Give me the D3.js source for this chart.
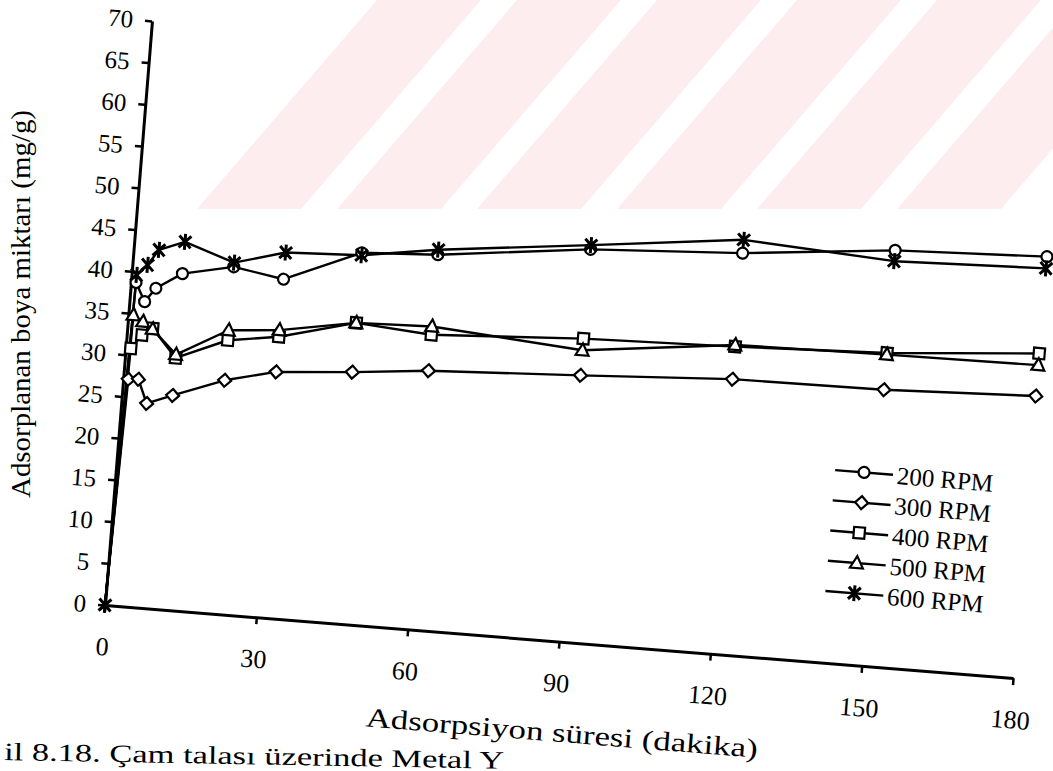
<!DOCTYPE html>
<html><head><meta charset="utf-8">
<script src="https://cdn.jsdelivr.net/npm/d3@7"></script>
<style>
body{margin:0;background:#fff}
svg{display:block}
text{font-family:"Liberation Serif","Times New Roman",serif;fill:#000}
</style>
</head><body>
<svg id="chart" width="1053" height="771"></svg>
<script>
// ---- data ----
const times   = [0, 1, 3, 5, 10, 20, 30, 45, 60, 90, 120, 150, 180];
const rpm200  = [0, 38.7, 36.5, 38.2, 40.2, 41.5, 40.5, 44.4, 44.9, 47.0, 48.0, 49.8, 50.5];
const rpm300  = [0, 27.1, 27.2, 24.4, 25.6, 27.9, 29.4, 30.1, 31.0, 31.9, 32.9, 33.1, 33.8];
const rpm400  = [0, 30.8, 32.5, 33.4, 30.1, 32.7, 33.6, 36.0, 35.3, 36.3, 36.8, 37.5, 38.9];
const rpm500  = [0, 34.8, 34.1, 33.3, 30.5, 33.9, 34.4, 36.0, 36.3, 34.9, 37.0, 37.3, 37.5];
const rpm600  = [0, 39.6, 40.9, 42.8, 44.0, 42.0, 43.7, 44.1, 45.5, 47.5, 49.6, 48.5, 49.1];
const seriesNames = ["200 RPM", "300 RPM", "400 RPM", "500 RPM", "600 RPM"];
const markerTypes = ["circle", "diamond", "square", "triangle", "star"];
const xTicks = [0, 30, 60, 90, 120, 150, 180];
const yTicks = [0, 5, 10, 15, 20, 25, 30, 35, 40, 45, 50, 55, 60, 65, 70];
const xTitle = "Adsorpsiyon süresi (dakika)";
const yTitle = "Adsorplanan boya miktarı (mg/g)";
const caption = "il 8.18. Çam talası üzerinde Metal Y";

const seriesValues = [rpm200, rpm300, rpm400, rpm500, rpm600];
const series = seriesNames.map((name, i) => ({
  name, marker: markerTypes[i],
  points: times.map((t, j) => ({t, v: seriesValues[i][j]}))
}));

// ---- drawing ----
const svg = d3.select("#chart");
svg.append("rect").attr("width", 1053).attr("height", 771).attr("fill", "#fff");

// faint scan watermark (diagonal pink bands)
const defs = svg.append("defs");
defs.append("clipPath").attr("id", "wm").append("rect")
  .attr("x", 190).attr("y", 0).attr("width", 863).attr("height", 209);
const wm = svg.append("g").attr("clip-path", "url(#wm)");
d3.range(6).forEach(i => {
  const x0 = 197 + i * 140, w = 104, sh = 180, h = 209;
  wm.append("path")
    .attr("d", `M${x0},${h}L${x0 + w},${h}L${x0 + w + sh},0L${x0 + sh},0Z`)
    .attr("fill", "#fdedef");
});

// y-axis title (upright in the scan)
svg.append("text").attr("transform", "translate(30,304) rotate(-90)")
  .attr("text-anchor", "middle").attr("font-size", 27)
  .attr("textLength", 388).attr("lengthAdjust", "spacingAndGlyphs")
  .text(yTitle);

// caption at the bottom edge
svg.append("text").attr("transform", "translate(4,760) rotate(1)")
  .attr("font-size", 25)
  .attr("textLength", 500).attr("lengthAdjust", "spacingAndGlyphs")
  .text(caption);

const W = 911, H = 586;
const g = svg.append("g").attr("transform", "translate(105,605) rotate(4.6)");

const x = d3.scaleLinear().domain([0, 180]).range([0, W]);
const y = d3.scaleLinear().domain([0, 70]).range([0, -H]);

// axes
const gx = g.append("g")
  .call(d3.axisBottom(x).tickValues(xTicks).tickSize(7).tickSizeOuter(0).tickPadding(25));
const gy = g.append("g")
  .call(d3.axisLeft(y).tickValues(yTicks).tickSize(7).tickSizeOuter(0).tickPadding(12));
[gx, gy].forEach(a => {
  a.select(".domain").attr("stroke", "#000").attr("stroke-width", 3);
  a.selectAll(".tick line").attr("stroke", "#000").attr("stroke-width", 2.5);
  a.selectAll(".tick text").attr("font-size", 25)
    .attr("font-family", "'Liberation Serif','Times New Roman',serif").attr("fill", "#000");
});
gx.selectAll(".tick text").attr("font-size", 26);

// x-axis title
g.append("text").attr("x", x(92)).attr("y", 100)
  .attr("text-anchor", "middle").attr("font-size", 27)
  .attr("textLength", 393).attr("lengthAdjust", "spacingAndGlyphs")
  .text(xTitle);

// marker shapes
function markerPath(type) {
  switch (type) {
    case "circle":   return d3.symbol(d3.symbolCircle, 95)();
    case "square":   return "M-5.5,-5.5H5.5V5.5H-5.5Z";
    case "diamond":  return "M0,-6.5L6.5,0L0,6.5L-6.5,0Z";
    case "triangle": return "M0,-7L6.5,5H-6.5Z";
    case "star":     return "M-6,-6L6,6M-6,6L6,-6M0,-8V8";
  }
}

const line = d3.line().x(d => x(d.t)).y(d => y(d.v));

series.forEach(s => {
  g.append("path").datum(s.points)
    .attr("d", line).attr("fill", "none")
    .attr("stroke", "#000").attr("stroke-width", 2.4).attr("stroke-linejoin", "round");
});
series.forEach(s => {
  // at the origin only the star marker is visible in the reference
  const pts = s.marker === "star" ? s.points : s.points.filter(d => d.t > 0);
  g.append("g").selectAll("path").data(pts).join("path")
    .attr("transform", d => `translate(${x(d.t)},${y(d.v)})`)
    .attr("d", markerPath(s.marker))
    .attr("fill", s.marker === "star" ? "none" : "#fff")
    .attr("stroke", "#000").attr("stroke-width", s.marker === "star" ? 3 : 2.2);
});

// legend
const leg = g.append("g").attr("transform", "translate(746,-193)");
series.forEach((s, i) => {
  const r = leg.append("g").attr("transform", `translate(0,${i * 30.3})`);
  r.append("line").attr("x1", -29).attr("x2", 29).attr("y1", 0).attr("y2", 0)
    .attr("stroke", "#000").attr("stroke-width", 2.4);
  r.append("path").attr("d", markerPath(s.marker))
    .attr("fill", s.marker === "star" ? "none" : "#fff")
    .attr("stroke", "#000").attr("stroke-width", s.marker === "star" ? 3 : 2.2);
  r.append("text").attr("x", 33).attr("y", 9).attr("font-size", 25).text(s.name);
});
</script>
</body></html>
